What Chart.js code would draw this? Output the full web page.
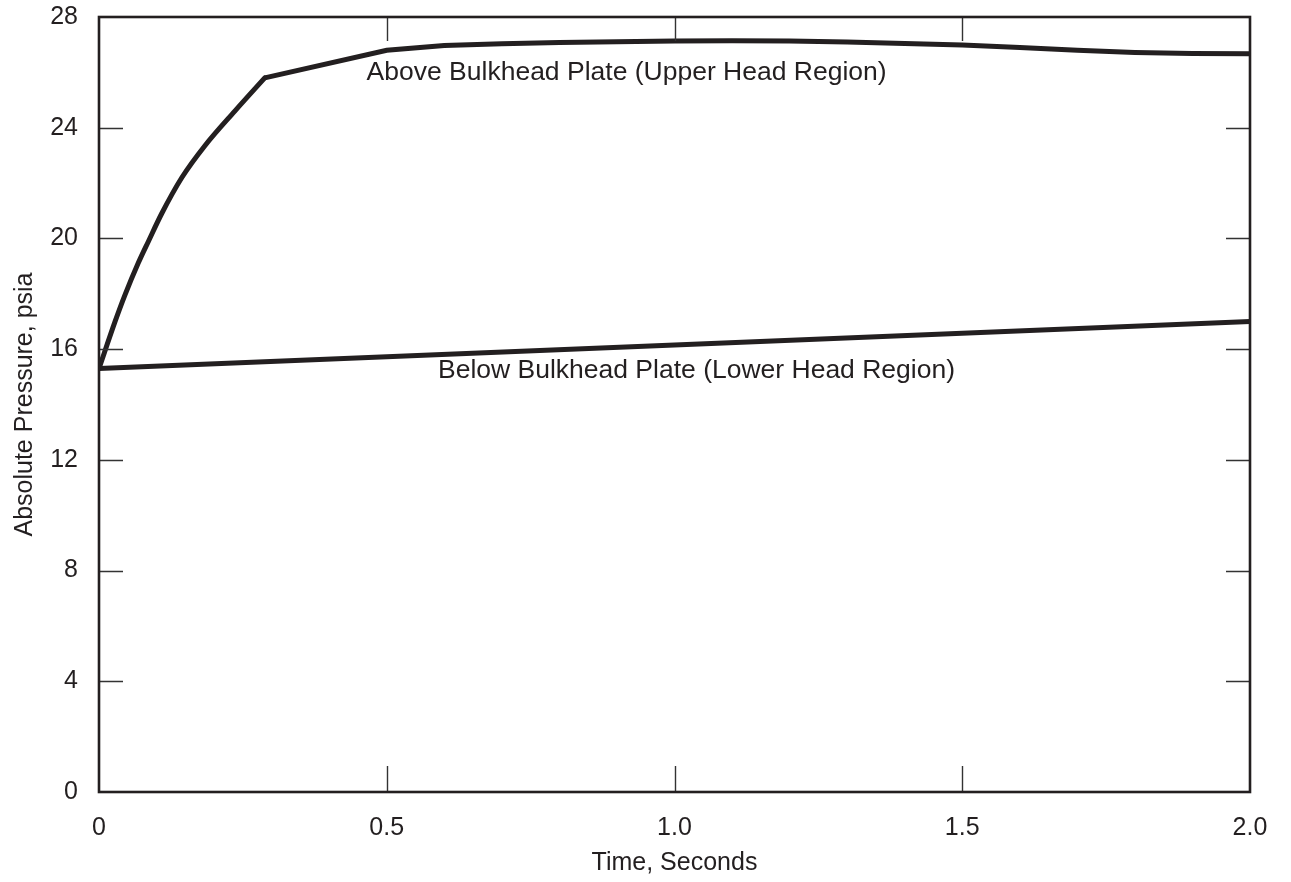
<!DOCTYPE html>
<html>
<head>
<meta charset="utf-8">
<script src="https://cdn.jsdelivr.net/npm/chart.js@4/dist/chart.umd.min.js"></script>
<style>
html,body{margin:0;padding:0;background:#fff;}
#wrap{position:relative;width:1291px;height:882px;}
</style>
</head>
<body>
<div id="wrap"><canvas id="c" width="1291" height="882"></canvas></div>
<script>
// ---- data ----
// upper curve, rising part (smooth)
const upperRiseTime = [0, 0.028, 0.045, 0.068, 0.086, 0.109, 0.144, 0.184, 0.236, 0.288];
const upperRisePressure = [15.3, 17.0, 17.95, 19.1, 19.9, 20.9, 22.2, 23.35, 24.6, 25.8];
// upper curve, after the knee
const upperPlateauTime = [0.288, 0.5, 0.6, 0.7, 0.8, 0.9, 1.0, 1.1, 1.2, 1.3, 1.4, 1.5, 1.6, 1.7, 1.8, 1.9, 2.0];
const upperPlateauPressure = [25.8, 26.8, 26.97, 27.03, 27.08, 27.11, 27.13, 27.14, 27.13, 27.1, 27.04, 26.99, 26.9, 26.8, 26.72, 26.68, 26.67];
// lower curve
const lowerTime = [0, 2.0];
const lowerPressure = [15.3, 17.0];
const xTickValues = [0, 0.5, 1.0, 1.5, 2.0];
const xTickLabels = ['0', '0.5', '1.0', '1.5', '2.0'];
const yTickValues = [0, 4, 8, 12, 16, 20, 24, 28];
const yTickLabels = ['0', '4', '8', '12', '16', '20', '24', '28'];
const upperLabel = 'Above Bulkhead Plate (Upper Head Region)';
const lowerLabel = 'Below Bulkhead Plate (Lower Head Region)';
const labelAnchors = [
  {text: upperLabel, x: 0.465, y: 25.72},
  {text: lowerLabel, x: 0.589, y: 14.95}
];

const INK = '#231f20';
const FONT = 'Liberation Sans, Arial, Helvetica, sans-serif';

const pairs = (xs, ys) => xs.map((x, i) => ({x: x, y: ys[i]}));

const framePlugin = {
  id: 'frame',
  afterDraw(chart) {
    const ctx = chart.ctx;
    const a = chart.chartArea;
    const xs = chart.scales.x, ys = chart.scales.y;
    ctx.save();
    // inner ticks
    ctx.strokeStyle = '#333';
    ctx.lineWidth = 1.4;
    ctx.beginPath();
    xTickValues.forEach(v => {
      if (v === xs.min || v === xs.max) return;
      const px = Math.round(xs.getPixelForValue(v)) + 0.5;
      ctx.moveTo(px, a.bottom); ctx.lineTo(px, a.bottom - 26);
      ctx.moveTo(px, a.top); ctx.lineTo(px, a.top + 24);
    });
    yTickValues.forEach(v => {
      if (v === ys.min || v === ys.max) return;
      const py = Math.round(ys.getPixelForValue(v)) + 0.5;
      ctx.moveTo(a.left, py); ctx.lineTo(a.left + 24, py);
      ctx.moveTo(a.right, py); ctx.lineTo(a.right - 24, py);
    });
    ctx.stroke();
    // frame
    ctx.strokeStyle = INK;
    ctx.lineWidth = 2.6;
    ctx.strokeRect(a.left, a.top, a.right - a.left, a.bottom - a.top);
    // curve labels
    ctx.fillStyle = INK;
    ctx.font = '26.5px ' + FONT;
    ctx.textAlign = 'left';
    ctx.textBaseline = 'alphabetic';
    labelAnchors.forEach(l => {
      ctx.fillText(l.text, xs.getPixelForValue(l.x), ys.getPixelForValue(l.y));
    });
    ctx.restore();
  }
};

const lineStyle = {showLine: true, borderColor: INK, borderWidth: 5, pointRadius: 0, fill: false};

new Chart(document.getElementById('c'), {
  type: 'scatter',
  data: {
    datasets: [
      Object.assign({data: pairs(upperRiseTime, upperRisePressure), cubicInterpolationMode: 'monotone', borderCapStyle: 'round', borderJoinStyle: 'round'}, lineStyle),
      Object.assign({data: pairs(upperPlateauTime, upperPlateauPressure), tension: 0}, lineStyle),
      Object.assign({data: pairs(lowerTime, lowerPressure), tension: 0}, lineStyle)
    ]
  },
  options: {
    responsive: false,
    animation: false,
    events: [],
    layout: {padding: {top: 17, right: 41, bottom: 0, left: 0}},
    plugins: {legend: {display: false}, tooltip: {enabled: false}},
    scales: {
      x: {
        type: 'linear', min: 0, max: 2,
        afterBuildTicks(s) { s.ticks = xTickValues.map(v => ({value: v})); },
        afterFit(s) { s.height = 90; s.paddingLeft = 0; s.paddingRight = 0; },
        grid: {display: false, drawTicks: false},
        border: {display: false},
        ticks: {
          padding: 21, color: INK, font: {family: FONT, size: 25},
          maxRotation: 0, autoSkip: false,
          callback(v) { const i = xTickValues.indexOf(v); return i >= 0 ? xTickLabels[i] : ''; }
        },
        title: {display: true, text: 'Time, Seconds', color: INK, font: {family: FONT, size: 25}, padding: {top: 0, bottom: 4}}
      },
      y: {
        type: 'linear', min: 0, max: 28,
        afterBuildTicks(s) { s.ticks = yTickValues.map(v => ({value: v})); },
        afterFit(s) { s.width = 99; s.paddingTop = 0; s.paddingBottom = 0; },
        grid: {display: false, drawTicks: false},
        border: {display: false},
        ticks: {
          padding: 21, color: INK, font: {family: FONT, size: 25}, autoSkip: false,
          callback(v) { const i = yTickValues.indexOf(v); return i >= 0 ? yTickLabels[i] : ''; }
        },
        title: {display: true, text: 'Absolute Pressure, psia', color: INK, font: {family: FONT, size: 25}, padding: {top: 10, bottom: 0}}
      }
    }
  },
  plugins: [framePlugin]
});
</script>
</body>
</html>
